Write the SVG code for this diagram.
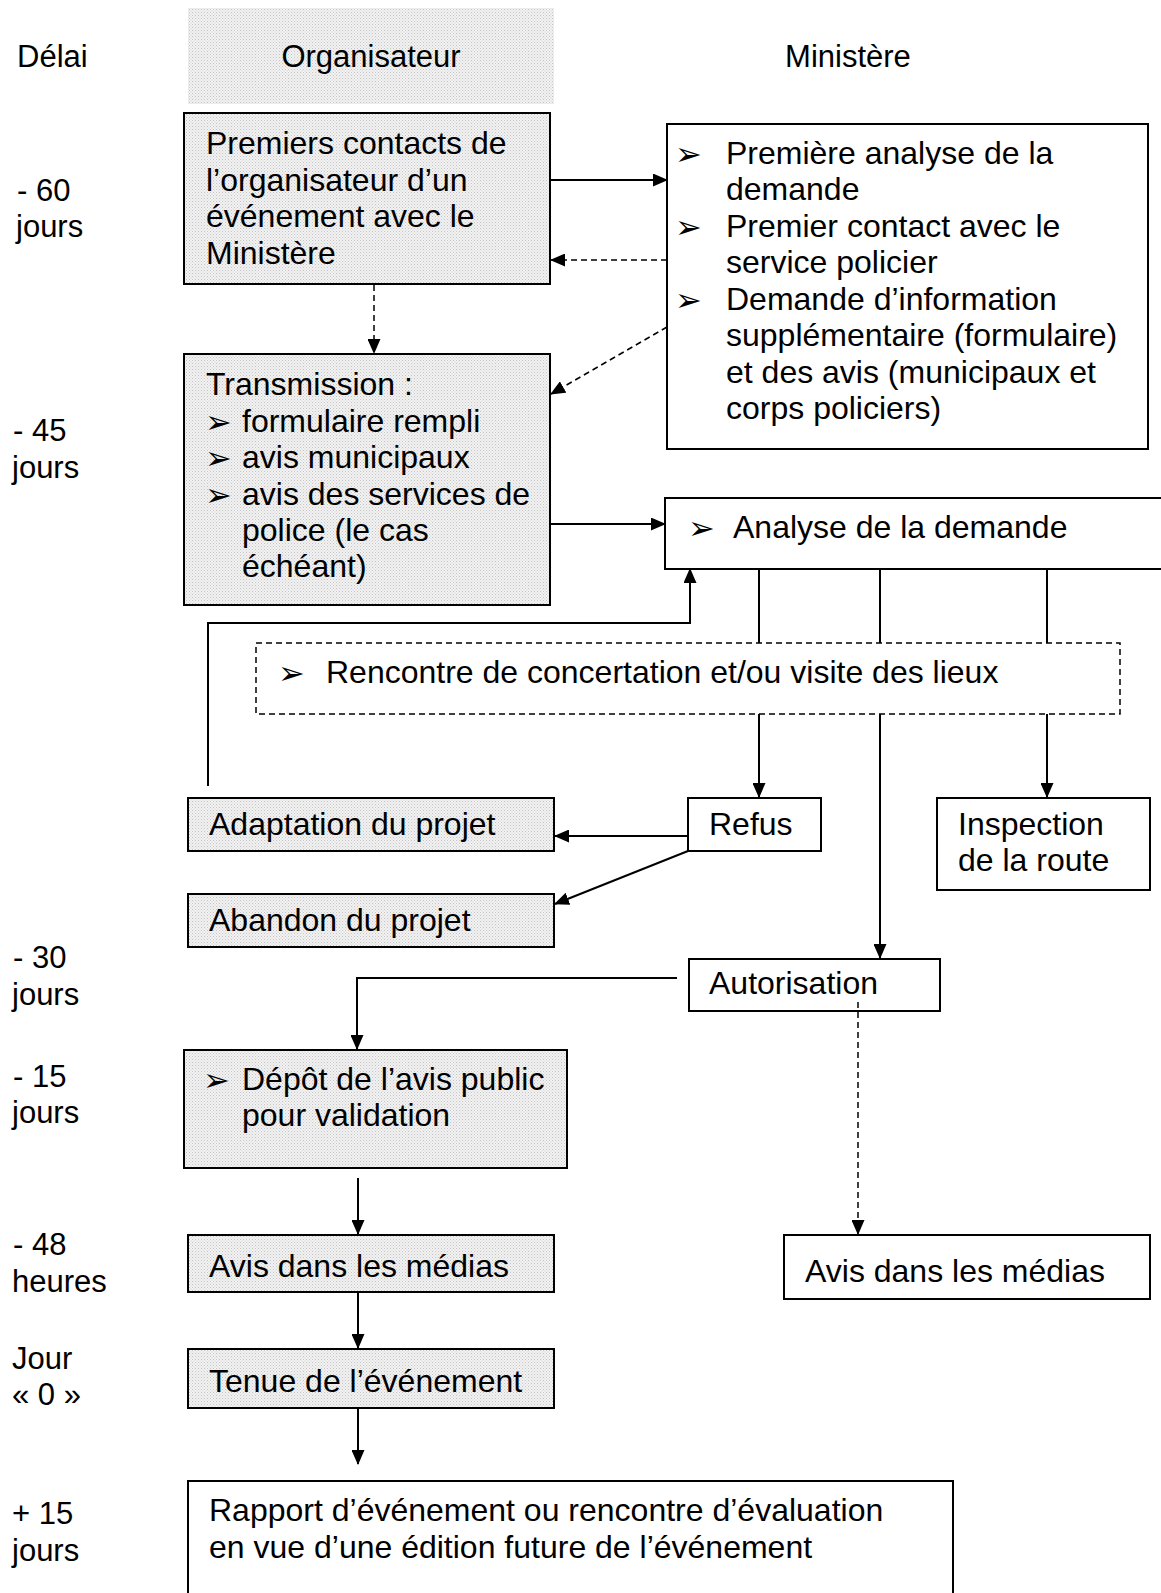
<svg xmlns="http://www.w3.org/2000/svg" width="1161" height="1593" viewBox="0 0 1161 1593">
<style>
text{font-family:"Liberation Sans",Arial,sans-serif;font-size:32px;fill:#000}
text.lab{font-size:31px}
.b{font-family:"DejaVu Sans",sans-serif;font-size:32px}
.box{fill:#fff;stroke:#000;stroke-width:2}
.sh{fill:url(#dots);stroke:#000;stroke-width:2}
.ln{fill:none;stroke:#000;stroke-width:2}
.ds{fill:none;stroke:#000;stroke-width:1.5;stroke-dasharray:6 4}
.arr{marker-end:url(#ah)}
</style>
<defs>
<pattern id="dots" width="3" height="3" patternUnits="userSpaceOnUse">
<rect width="3" height="3" fill="#f2f2f2"/>
<rect width="1" height="1" fill="#c4c4c4"/>
<rect x="1.5" y="1.5" width="1" height="1" fill="#d0d0d0"/>
</pattern>
<marker id="ah" markerWidth="15" markerHeight="13" refX="14" refY="6.5" orient="auto" markerUnits="userSpaceOnUse">
<path d="M0,0 L15,6.5 L0,13 z" fill="#000"/>
</marker>
</defs>

<g id="labels">
<text class="lab" x="17" y="67">Délai</text>
<text class="lab" x="17" y="201">- 60</text>
<text class="lab" x="16" y="237">jours</text>
<text class="lab" x="13" y="441">- 45</text>
<text class="lab" x="12" y="478">jours</text>
<text class="lab" x="13" y="968">- 30</text>
<text class="lab" x="12" y="1005">jours</text>
<text class="lab" x="13" y="1087">- 15</text>
<text class="lab" x="12" y="1123">jours</text>
<text class="lab" x="13" y="1255">- 48</text>
<text class="lab" x="12" y="1292">heures</text>
<text class="lab" x="12" y="1369">Jour</text>
<text class="lab" x="12" y="1405">« 0 »</text>
<text class="lab" x="12" y="1524">+ 15</text>
<text class="lab" x="12" y="1561">jours</text>
</g>

<g id="hdr-org">
<rect x="188" y="8" width="366" height="96" fill="url(#dots)"/>
<text class="lab" x="371" y="67" text-anchor="middle">Organisateur</text>
</g>
<g id="hdr-min">
<text class="lab" x="848" y="67" text-anchor="middle">Ministère</text>
</g>

<g id="n-premiers">
<rect class="sh" x="184" y="113" width="366" height="171"/>
<text x="206" y="154">Premiers contacts de</text>
<text x="206" y="191">l’organisateur d’un</text>
<text x="206" y="227">événement avec le</text>
<text x="206" y="264">Ministère</text>
</g>

<g id="n-analyse1">
<rect class="box" x="667" y="124" width="481" height="325"/>
<text class="b" x="675" y="165">➢</text>
<text x="726" y="164">Première analyse de la</text>
<text x="726" y="200">demande</text>
<text class="b" x="675" y="238">➢</text>
<text x="726" y="237">Premier contact avec le</text>
<text x="726" y="273">service policier</text>
<text class="b" x="675" y="311">➢</text>
<text x="726" y="310">Demande d’information</text>
<text x="726" y="346">supplémentaire (formulaire)</text>
<text x="726" y="383">et des avis (municipaux et</text>
<text x="726" y="419">corps policiers)</text>
</g>

<g id="n-transmission">
<rect class="sh" x="184" y="354" width="366" height="251"/>
<text x="206" y="395">Transmission :</text>
<text class="b" x="205" y="433">➢</text>
<text x="242" y="432">formulaire rempli</text>
<text class="b" x="205" y="469">➢</text>
<text x="242" y="468">avis municipaux</text>
<text class="b" x="205" y="506">➢</text>
<text x="242" y="505">avis des services de</text>
<text x="242" y="541">police (le cas</text>
<text x="242" y="577">échéant)</text>
</g>

<g id="n-analyse2">
<rect class="box" x="665" y="498" width="510" height="71"/>
<text class="b" x="688" y="539">➢</text>
<text x="733" y="538">Analyse de la demande</text>
</g>

<g id="n-rencontre">
<rect class="ds" x="256" y="643" width="864" height="71" fill="#fff"/>
<text class="b" x="278" y="684">➢</text>
<text x="326" y="683">Rencontre de concertation et/ou visite des lieux</text>
</g>

<g id="n-adaptation">
<rect class="sh" x="188" y="798" width="366" height="53"/>
<text x="209" y="835">Adaptation du projet</text>
</g>

<g id="n-refus">
<rect class="box" x="688" y="798" width="133" height="53"/>
<text x="709" y="835">Refus</text>
</g>

<g id="n-inspection">
<rect class="box" x="937" y="798" width="213" height="92"/>
<text x="958" y="835">Inspection</text>
<text x="958" y="871">de la route</text>
</g>

<g id="n-abandon">
<rect class="sh" x="188" y="894" width="366" height="53"/>
<text x="209" y="931">Abandon du projet</text>
</g>

<g id="n-autorisation">
<rect class="box" x="689" y="959" width="251" height="52"/>
<text x="709" y="994">Autorisation</text>
</g>

<g id="n-depot">
<rect class="sh" x="184" y="1050" width="383" height="118"/>
<text class="b" x="203" y="1091">➢</text>
<text x="242" y="1090">Dépôt de l’avis public</text>
<text x="242" y="1126">pour validation</text>
</g>

<g id="n-avis-org">
<rect class="sh" x="188" y="1235" width="366" height="57"/>
<text x="209" y="1277">Avis dans les médias</text>
</g>

<g id="n-avis-min">
<rect class="box" x="784" y="1235" width="366" height="64"/>
<text x="805" y="1282">Avis dans les médias</text>
</g>

<g id="n-tenue">
<rect class="sh" x="188" y="1349" width="366" height="59"/>
<text x="209" y="1392">Tenue de l’événement</text>
</g>

<g id="n-rapport">
<rect class="box" x="188" y="1481" width="765" height="130"/>
<text x="209" y="1521">Rapport d’événement ou rencontre d’évaluation</text>
<text x="209" y="1558">en vue d’une édition future de l’événement</text>
</g>

<g id="connectors">
<line class="ln arr" x1="550" y1="180" x2="667" y2="180"/>
<line class="ds arr" x1="667" y1="260" x2="551" y2="260"/>
<line class="ds arr" x1="374" y1="285" x2="374" y2="353"/>
<line class="ds arr" x1="667" y1="327" x2="551" y2="394"/>
<line class="ln arr" x1="550" y1="524" x2="665" y2="524"/>
<line class="ln" x1="759" y1="569" x2="759" y2="643"/>
<line class="ln" x1="880" y1="569" x2="880" y2="643"/>
<line class="ln" x1="1047" y1="569" x2="1047" y2="643"/>
<polyline class="ln arr" points="208,786 208,623 690,623 690,569"/>
<line class="ln arr" x1="759" y1="714" x2="759" y2="797"/>
<line class="ln arr" x1="880" y1="714" x2="880" y2="958"/>
<line class="ln arr" x1="1047" y1="714" x2="1047" y2="797"/>
<line class="ln arr" x1="688" y1="836" x2="555" y2="836"/>
<line class="ln arr" x1="688" y1="851" x2="555" y2="904"/>
<polyline class="ln arr" points="677,978 357,978 357,1049"/>
<line class="ds arr" x1="858" y1="1002" x2="858" y2="1234"/>
<line class="ln arr" x1="358" y1="1178" x2="358" y2="1234"/>
<line class="ln arr" x1="358" y1="1292" x2="358" y2="1348"/>
<line class="ln arr" x1="358" y1="1408" x2="358" y2="1464"/>
</g>
</svg>
